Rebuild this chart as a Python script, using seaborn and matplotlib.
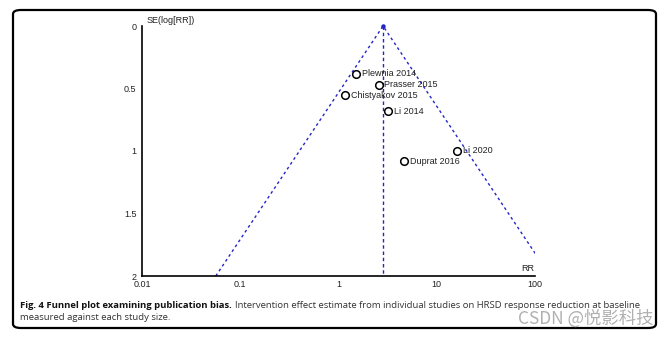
import numpy as np
import pandas as pd
import matplotlib
matplotlib.use("Agg")
import matplotlib.pyplot as plt
from matplotlib.patches import FancyBboxPatch
import seaborn as sns

# ---- data ----
studies = ["Plewnia 2014", "Prasser 2015", "Chistyakov 2015", "Li 2014", "Li 2020", "Duprat 2016"]
rr = [1.51, 2.58, 1.17, 3.19, 16.1, 4.64]
se = [0.384, 0.47, 0.554, 0.683, 0.997, 1.08]
pooled_rr = 2.84
se_max = 2.0
x_ticks = [0.01, 0.1, 1, 10, 100]
x_tick_labels = ["0.01", "0.1", "1", "10", "100"]
y_ticks = [0, 0.5, 1, 1.5, 2]
y_tick_labels = ["0", "0.5", "1", "1.5", "2"]

df = pd.DataFrame({"study": studies, "rr": rr, "se": se})

sns.set_theme(style="white")
plt.rcParams["font.family"] = ["Liberation Sans", "DejaVu Sans"]

fig = plt.figure(figsize=(6.69, 3.37), dpi=100)
ax = fig.add_axes([142/669, 1-276/337, (535-142)/669, (276-26)/337])

blue = "#2424c8"
# funnel lines (pseudo 95% limits around the pooled estimate)
z = 1.96
lp = np.log(pooled_rr)
funnel = pd.DataFrame({
    "x": [np.exp(lp - z*se_max), pooled_rr, np.exp(lp + z*se_max)],
    "y": [se_max, 0, se_max],
})
sns.lineplot(data=funnel, x="x", y="y", ax=ax, color=blue, lw=1.0,
             linestyle=(0, (2, 2.2)), sort=False, estimator=None)
vline = pd.DataFrame({"x": [pooled_rr, pooled_rr], "y": [0, se_max]})
sns.lineplot(data=vline, x="x", y="y", ax=ax, color=blue, lw=1.0,
             linestyle=(0, (2.5, 2)), sort=False, estimator=None)
ax.plot([pooled_rr], [0], marker="o", ms=2.2, color=blue, clip_on=False)

sns.scatterplot(data=df, x="rr", y="se", ax=ax, s=30, facecolor="white",
                edgecolor="black", linewidth=1.1, zorder=5, clip_on=False)
for s_, x_, y_ in zip(studies, rr, se):
    ax.annotate(s_, (x_, y_), xytext=(4, 0), textcoords="offset points",
                fontsize=6.5, va="center", ha="left", color="#222222")

ax.set_xscale("log")
ax.set_xlim(0.01, 100)
ax.set_ylim(2, 0)
ax.set_xticks(x_ticks)
ax.set_xticklabels(x_tick_labels)
ax.set_yticks(y_ticks)
ax.set_yticklabels(y_tick_labels)
ax.minorticks_off()
ax.tick_params(axis="both", direction="inout", length=6, width=1, labelsize=6.5,
               colors="black", labelcolor="#222222", pad=1)
ax.tick_params(axis="x", pad=0)
for sp in ["top", "right"]:
    ax.spines[sp].set_visible(False)
for sp in ["left", "bottom"]:
    ax.spines[sp].set_color("black")
    ax.spines[sp].set_linewidth(1.2)
ax.set_xlabel("")
ax.set_ylabel("")
ax.patch.set_alpha(0)
ax.text(5/393, 1.005, "SE(log[RR])", transform=ax.transAxes,
        fontsize=6.5, ha="left", va="bottom", color="#222222")
ax.text(0.997, 0.012, "RR", transform=ax.transAxes, fontsize=6.5,
        ha="right", va="bottom", color="#222222")

# frame
frame = FancyBboxPatch((13/669, 1-328/337), (656-13)/669, (328-10)/337,
                       boxstyle="round,pad=0,rounding_size=0.012",
                       transform=fig.transFigure, fill=False, lw=1.6,
                       edgecolor="black", zorder=0)
fig.patches.append(frame)

# caption
cap_font = ["Open Sans", "DejaVu Sans"]
bold = fig.text(20/669, 1-305/337, "Fig. 4 Funnel plot examining publication bias.",
                fontsize=6.8, fontweight="bold", fontstretch="normal", va="center",
                ha="left", family=cap_font, color="#111111")
fig.canvas.draw()
bb = bold.get_window_extent(renderer=fig.canvas.get_renderer())
x_next = (bb.x1 + 3) / fig.bbox.width
fig.text(x_next, 1-305/337,
         "Intervention effect estimate from individual studies on HRSD response reduction at baseline",
         fontsize=6.8, va="center", ha="left", color="#333333", family=cap_font)
fig.text(20/669, 1-317/337, "measured against each study size.",
         fontsize=6.8, va="center", ha="left", color="#333333", family=cap_font)
fig.text(654/669, 1-319/337, "CSDN @悦影科技", fontsize=12.5, color="#a8a8a8",
         ha="right", va="center", family=["Noto Sans CJK SC", "DejaVu Sans"], alpha=0.9)

fig.savefig("out.png", dpi=100)
